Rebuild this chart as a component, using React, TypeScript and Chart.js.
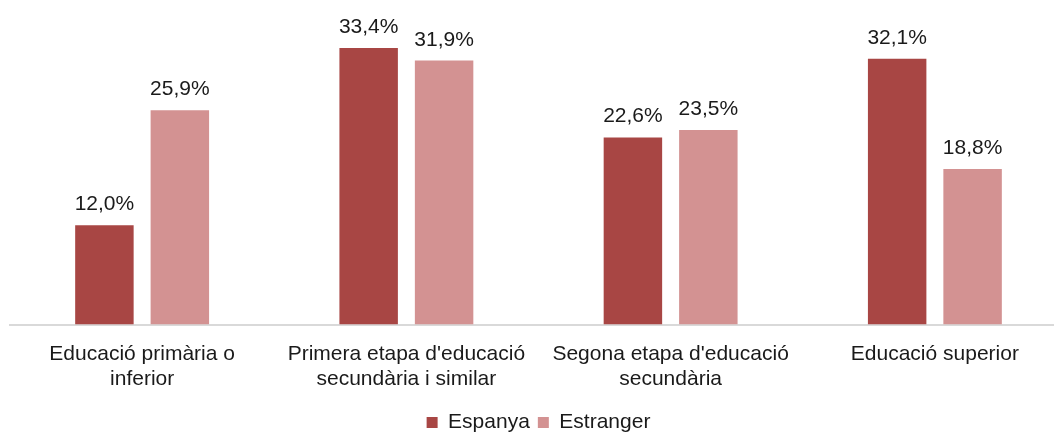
import React, { useEffect, useRef } from "react";
import { Chart, registerables } from "chart.js";

Chart.register(...registerables);

const categories: string[][] = [
  ["Educació primària o", "inferior"],
  ["Primera etapa d'educació", "secundària i similar"],
  ["Segona etapa d'educació", "secundària"],
  ["Educació superior"],
];
const seriesNames = ["Espanya", "Estranger"];
const espanya = [12.0, 33.4, 22.6, 32.1];
const estranger = [25.9, 31.9, 23.5, 18.8];
const colors = ["#a84644", "#d39292"];

const FONT = "'Liberation Sans', Arial, sans-serif";

const valueLabels = {
  id: "valueLabels",
  afterDatasetsDraw(chart: any) {
    const ctx = chart.ctx;
    ctx.save();
    ctx.font = `21px ${FONT}`;
    ctx.fillStyle = "#1a1a1a";
    ctx.textAlign = "center";
    ctx.textBaseline = "alphabetic";
    chart.data.datasets.forEach((ds: any, i: number) => {
      const meta = chart.getDatasetMeta(i);
      meta.data.forEach((el: any, j: number) => {
        const v = ds.data[j] as number;
        const txt = v.toFixed(1).replace(".", ",") + "%";
        ctx.fillText(txt, el.x, el.y - 15);
      });
    });
    ctx.restore();
  },
};

export default function App() {
  const ref = useRef<HTMLCanvasElement | null>(null);
  useEffect(() => {
    if (!ref.current) return;
    const chart = new Chart(ref.current, {
      type: "bar",
      data: {
        labels: categories,
        datasets: [
          {
            label: seriesNames[0],
            data: espanya,
            backgroundColor: colors[0],
            categoryPercentage: 0.571,
            barPercentage: 0.775,
          },
          {
            label: seriesNames[1],
            data: estranger,
            backgroundColor: colors[1],
            categoryPercentage: 0.571,
            barPercentage: 0.775,
          },
        ],
      },
      options: {
        animation: false,
        responsive: false,
        maintainAspectRatio: false,
        layout: { padding: { left: 10, right: 0, top: 10, bottom: 0 } },
        plugins: {
          legend: {
            position: "bottom",
            labels: {
              boxWidth: 11,
              boxHeight: 11,
              color: "#1a1a1a",
              font: { size: 21, family: FONT },
              padding: 8,
            },
          },
          tooltip: { enabled: false },
        },
        scales: {
          x: {
            grid: { display: false },
            border: { display: true, color: "#d9d9d9", width: 2 },
            ticks: {
              color: "#1a1a1a",
              font: { size: 21, family: FONT, lineHeight: 1.2 },
              padding: 9,
              maxRotation: 0,
              autoSkip: false,
            },
            afterFit: (scale: any) => {
              scale.height += 3;
            },
          },
          y: {
            display: false,
            min: 0,
            max: 38,
          },
        },
      },
      plugins: [valueLabels],
    });
    return () => chart.destroy();
  }, []);
  return (
    <div style={{ position: "fixed", left: 0, top: 0, width: 1067, height: 443, background: "#fff" }}>
      <canvas ref={ref} width={1067} height={443} style={{ display: "block" }} />
    </div>
  );
}
